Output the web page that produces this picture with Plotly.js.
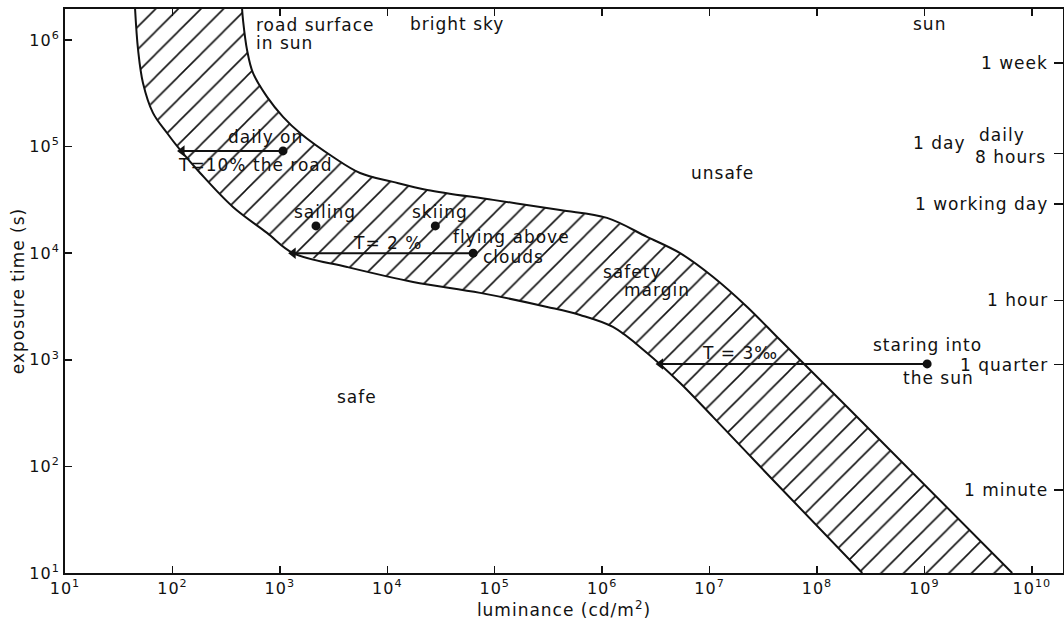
<!DOCTYPE html>
<html>
<head>
<meta charset="utf-8">
<script src="https://cdn.plot.ly/plotly-3.0.1.min.js"></script>
<style>html,body{margin:0;padding:0;background:#fff;}#chart{width:1064px;height:625px;} text{letter-spacing:1px;}</style>
</head>
<body>
<div id="chart"></div>
<script>
// Lower boundary (safe / safety margin), luminance cd/m2 vs exposure time s
const lowerX = [44.9, 47.9, 53.2, 65.9, 89.1, 118, 181, 366, 760, 1330, 4230, 17400, 73100, 3.08e5, 6.24e5, 1.26e6, 2.62e6, 5.32e6, 1.08e7, 2.24e7, 3.66e7, 2.64e8];
const lowerY = [1.95e6, 8.05e5, 3.95e5, 2.07e5, 1.34e5, 9.29e4, 5.65e4, 2.71e4, 1.55e4, 1.0e4, 7410, 5370, 4240, 3130, 2630, 2030, 1160, 605, 290, 134, 79.6, 10];
// Upper boundary (safety margin / unsafe)
const upperX = [445, 454, 495, 562, 760, 1070, 1540, 3130, 5580, 11300, 23500, 96600, 4.06e5, 1.11e6, 2.62e6, 5.32e6, 1.08e7, 2.24e7, 4.54e7, 1.91e8, 6.56e9];
const upperY = [1.95e6, 1.54e6, 8.05e5, 4.90e5, 2.92e5, 1.90e5, 1.34e5, 7.98e4, 5.65e4, 4.66e4, 3.92e4, 3.16e4, 2.54e4, 2.14e4, 1.42e4, 1.0e4, 5980, 3130, 1530, 361, 10];

// Exposure situations (dots)
const situationNames = ["daily on the road", "sailing", "skiing", "flying above clouds", "staring into the sun"];
const situationL = [1070, 2170, 2.8e4, 6.3e4, 1.06e9];
const situationT = [9.1e4, 1.8e4, 1.8e4, 1.0e4, 914];

// Transmission arrows: from situation luminance to reduced luminance
const arrowFromL = [1070, 6.3e4, 1.06e9];
const arrowToL = [123, 1330, 3.5e6];
const arrowT = [9.1e4, 1.0e4, 914];

// Axis ticks
const xTickVals = [1e1, 1e2, 1e3, 1e4, 1e5, 1e6, 1e7, 1e8, 1e9, 1e10];
const xTickText = ["10<sup>1</sup>", "10<sup>2</sup>", "10<sup>3</sup>", "10<sup>4</sup>", "10<sup>5</sup>", "10<sup>6</sup>", "10<sup>7</sup>", "10<sup>8</sup>", "10<sup>9</sup>", "10<sup>10</sup>"];
const yTickVals = [1e1, 1e2, 1e3, 1e4, 1e5, 1e6];
const yTickText = ["10<sup>1</sup>", "10<sup>2</sup>", "10<sup>3</sup>", "10<sup>4</sup>", "10<sup>5</sup>", "10<sup>6</sup>"];
// Right-hand time scale (seconds)
const timeTickVals = [604800, 86400, 28800, 3600, 900, 60];
const timeTickText = ["1 week", "1 day", "1 working day", "1 hour", "1 quarter", "1 minute"];

const FONT = "DejaVu Sans, sans-serif";
const FS = 17;
const lg = Math.log10;

const polyX = lowerX.concat(upperX.slice().reverse());
const polyY = lowerY.concat(upperY.slice().reverse());

const traces = [
  {x: polyX, y: polyY, mode: "lines", fill: "toself", fillcolor: "white",
   fillpattern: {shape: "/", size: 16, solidity: 0.1, fgcolor: "#111", bgcolor: "white"},
   line: {width: 0}, hoverinfo: "skip", showlegend: false},
  {x: lowerX, y: lowerY, mode: "lines", line: {color: "#111", width: 2, shape: "spline", smoothing: 1}, showlegend: false},
  {x: upperX, y: upperY, mode: "lines", line: {color: "#111", width: 2, shape: "spline", smoothing: 1}, showlegend: false}
];
for (let i = 0; i < arrowFromL.length; i++) {
  traces.push({x: [arrowFromL[i], arrowToL[i]], y: [arrowT[i], arrowT[i]], mode: "lines",
    line: {color: "#111", width: 2}, showlegend: false, hoverinfo: "skip"});
}
traces.push({x: arrowToL, y: arrowT, mode: "markers", marker: {symbol: "triangle-left", size: 10, color: "#111"}, showlegend: false, hoverinfo: "skip"});
traces.push({x: situationL, y: situationT, text: situationNames, mode: "markers", marker: {color: "#111", size: 9}, showlegend: false});
traces.push({x: [], y: [], yaxis: "y2", showlegend: false});

function txt(text, x, y, opts) {
  return Object.assign({text: text, x: lg(x), y: lg(y), xref: "x", yref: "y", showarrow: false,
    font: {family: FONT, size: FS, color: "#111"}}, opts || {});
}
function rtxt(text, y, shift) {
  return {text: text, xref: "paper", yref: "y", x: 1, y: lg(y), xanchor: "right", xshift: shift,
    showarrow: false, font: {family: FONT, size: FS, color: "#111"}};
}

const annotations = [
  txt("road surface", 575, 1.38e6, {xanchor: "left"}),
  txt("in sun", 575, 9.38e5, {xanchor: "left"}),
  txt("bright sky", 15600, 1.41e6, {xanchor: "left"}),
  txt("sun", 1.11e9, 1.41e6),
  txt("unsafe", 1.31e7, 5.65e4),
  txt("safe", 5240, 448),
  txt("safety", 1.90e6, 6670),
  txt("margin", 3.25e6, 4520),
  txt("daily on", 728, 1.23e5),
  txt("T=10%", 235, 6.71e4),
  txt("the road", 1330, 6.71e4),
  txt("sailing", 2640, 2.44e4),
  txt("skiing", 3.10e4, 2.44e4),
  txt("T= 2 %", 9950, 1.25e4),
  txt("flying above", 1.42e5, 1.42e4),
  txt("clouds", 1.48e5, 9200),
  txt("T = 3‰", 1.93e7, 1160),
  txt("staring into", 1.06e9, 1380),
  txt("the sun", 1.34e9, 675),
  rtxt("daily", 1.29e5, -36),
  rtxt("8 hours", 7.98e4, -15)
];
timeTickVals.forEach(function (v, i) {
  if (timeTickText[i] === "1 day") annotations.push(rtxt(timeTickText[i], 1.08e5, -95));
  else annotations.push(rtxt(timeTickText[i], v, -13));
});

const layout = {
  width: 1064, height: 625,
  margin: {l: 65, r: 1, t: 9, b: 52},
  paper_bgcolor: "white", plot_bgcolor: "white",
  font: {family: FONT, size: FS, color: "#111"},
  showlegend: false,
  xaxis: {type: "log", range: [1, 10.29], tickvals: xTickVals, ticktext: xTickText,
    ticks: "inside", ticklen: 7, tickwidth: 1.5, tickcolor: "#111", mirror: "ticks",
    showline: true, linewidth: 2, linecolor: "#111", showgrid: false, zeroline: false,
    ticklabeloverflow: "allow",
    tickfont: {family: FONT, size: 16, color: "#111"},
    title: {text: "luminance (cd/m<sup>2</sup>)", font: {family: FONT, size: FS, color: "#111"}, standoff: 2}},
  yaxis: {type: "log", range: [1, 6.29], tickvals: yTickVals, ticktext: yTickText,
    ticks: "inside", ticklen: 7, tickwidth: 1.5, tickcolor: "#111", mirror: true,
    showline: true, linewidth: 2, linecolor: "#111", showgrid: false, zeroline: false,
    tickfont: {family: FONT, size: 16, color: "#111"},
    title: {text: "exposure time (s)", font: {family: FONT, size: FS, color: "#111"}, standoff: 0}},
  yaxis2: {type: "log", range: [1, 6.29], overlaying: "y", side: "right",
    tickvals: timeTickVals, ticks: "inside", ticklen: 9, tickwidth: 1.5, tickcolor: "#111",
    showticklabels: false, showline: false, showgrid: false, zeroline: false},
  annotations: annotations
};

Plotly.newPlot("chart", traces, layout, {staticPlot: true});
</script>
</body>
</html>
